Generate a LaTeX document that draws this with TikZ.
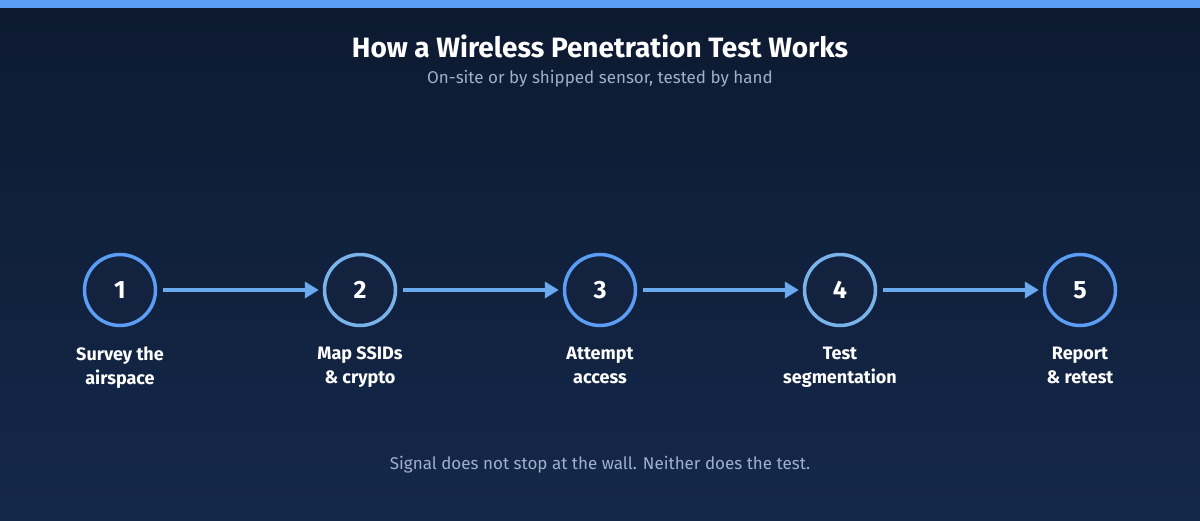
\documentclass[tikz,border=0pt]{standalone}
\usepackage{fontspec}
\setmainfont{Fira Sans}
\usetikzlibrary{arrows.meta}
\definecolor{bgtop}{HTML}{0D1A30}
\definecolor{bgbot}{HTML}{14284A}
\definecolor{bar}{HTML}{5B9CF5}
\definecolor{ca}{HTML}{5B9CF5}
\definecolor{cb}{HTML}{7AB3EA}
\definecolor{arr}{HTML}{6AAAEE}
\definecolor{sub}{HTML}{9DB0CC}
\definecolor{fillc}{HTML}{13233F}
\begin{document}
\begin{tikzpicture}[x=1pt,y=-1pt,
  stepc/.style={circle,draw,line width=3.5pt,fill=fillc,minimum size=71pt,inner sep=0pt,text=white,font=\fontsize{25}{28}\selectfont\bfseries},
  lab/.style={text=white,align=center,anchor=north,inner sep=0pt,font=\fontsize{18}{24}\selectfont\bfseries},
  con/.style={draw=arr,line width=4pt,shorten <=6pt,shorten >=4pt,-{Triangle[length=14pt,width=16pt]}}]
\shade[top color=bgtop,bottom color=bgbot] (0,0) rectangle (1200,520);
\useasboundingbox (0,0) rectangle (1200,520);
\fill[bar] (0,0) rectangle (1200,8);
\node[text=white,font=\fontsize{28}{30}\selectfont\bfseries] (title) at (600,46) {How a Wireless Penetration Test Works};
\node[text=sub,font=\fontsize{17}{20}\selectfont] (subt) at (600,79) {On-site or by shipped sensor, tested by hand};
\node[stepc,draw=ca] (s1) at (120,290) {1};
\node[stepc,draw=cb] (s2) at (360,290) {2};
\node[stepc,draw=ca] (s3) at (600,290) {3};
\node[stepc,draw=cb] (s4) at (840,290) {4};
\node[stepc,draw=ca] (s5) at (1080,290) {5};
\foreach \a/\b in {s1/s2,s2/s3,s3/s4,s4/s5} \draw[con] (\a) -- (\b);
\node[lab] (l1) at (120,347) {Survey the\\airspace};
\node[lab] (l2) at (360,347) {Map SSIDs\\\& crypto};
\node[lab] (l3) at (600,347) {Attempt\\access};
\node[lab] (l4) at (840,347) {Test\\segmentation};
\node[lab] (l5) at (1080,347) {Report\\\& retest};
\node[text=sub,font=\fontsize{17}{20}\selectfont] (foot) at (600,465) {Signal does not stop at the wall. Neither does the test.};
\end{tikzpicture}
\end{document}
